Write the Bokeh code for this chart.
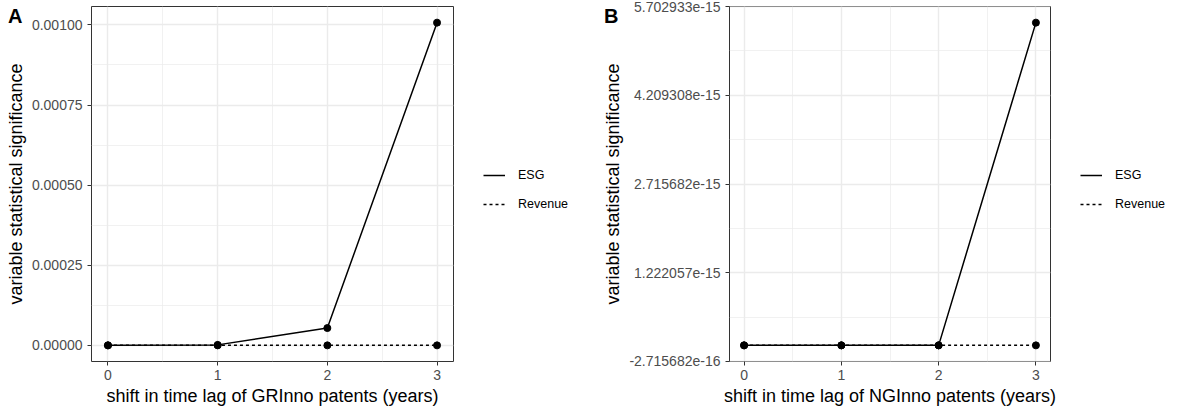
from bokeh.plotting import figure
from bokeh.models import Range1d, FixedTicker, Legend, LegendItem, LinearAxis
from bokeh.layouts import row
from bokeh.embed import file_html
from bokeh.resources import INLINE

# ---------------- data ----------------
lags = [0, 1, 2, 3]
x_ticks = [0, 1, 2, 3]
x_labels = ["0", "1", "2", "3"]

esg_a = [0.0, 1.5e-6, 5.4e-5, 1.007e-3]
rev_a = [0.0, 0.0, 0.0, 0.0]
a_yticks = [0.0, 0.00025, 0.0005, 0.00075, 0.001]
a_ylabels = ["0.00000", "0.00025", "0.00050", "0.00075", "0.00100"]

esg_b = [0.0, 0.0, 0.0, 5.431364e-15]
rev_b = [0.0, 0.0, 0.0, 0.0]
b_yticks = [-2.715682e-16, 1.222057e-15, 2.715682e-15, 4.209308e-15, 5.702933e-15]
b_ylabels = ["-2.715682e-16", "1.222057e-15", "2.715682e-15", "4.209308e-15", "5.702933e-15"]

series_names = ["ESG", "Revenue"]
series_dash = ["solid", "3 3"]
panel_tags = ["A", "B"]
x_titles = ["shift in time lag of GRInno patents (years)",
            "shift in time lag of NGInno patents (years)"]
y_title = "variable statistical significance"

FONT = "Liberation Sans"
HEIGHT = 412
TOP = 6
BOTTOM = 51
FRAME_H = HEIGHT - TOP - BOTTOM
XR = (-0.15, 3.15)


def midpoints(t):
    return [(a + b) / 2 for a, b in zip(t[:-1], t[1:])]


def make_panel(esg, rev, yr, yticks, ylabels, xtitle, tag, left, fw, right, tag_shift):
    p = figure(x_range=Range1d(*XR), y_range=yr,
               width=left + fw + right, height=HEIGHT,
               min_border_left=left, min_border_right=right,
               min_border_top=TOP, min_border_bottom=BOTTOM,
               output_backend="svg", toolbar_location=None)
    p.background_fill_color = "white"
    p.border_fill_color = "white"
    p.outline_line_color = "#333333"
    p.outline_line_width = 1

    p.xaxis.ticker = FixedTicker(ticks=x_ticks, minor_ticks=midpoints(x_ticks))
    p.xaxis.major_label_overrides = {t: l for t, l in zip(x_ticks, x_labels)}
    p.yaxis.ticker = FixedTicker(ticks=yticks, minor_ticks=midpoints(yticks))
    p.yaxis.major_label_overrides = {t: l for t, l in zip(yticks, ylabels)}
    p.xaxis.axis_label = xtitle
    p.yaxis.axis_label = y_title

    for ax in (p.xaxis[0], p.yaxis[0]):
        ax.axis_line_color = None
        ax.major_tick_line_color = "#333333"
        ax.major_tick_out = 4
        ax.major_tick_in = 0
        ax.minor_tick_line_color = None
        ax.major_label_text_font = FONT
        ax.major_label_text_font_size = "14px"
        ax.major_label_text_color = "#4D4D4D"
        ax.major_label_standoff = 5
        ax.axis_label_text_font = FONT
        ax.axis_label_text_font_size = "18px"
        ax.axis_label_text_font_style = "normal"
        ax.axis_label_text_color = "black"
        ax.axis_label_standoff = 3
    p.xaxis.major_label_standoff = 4
    p.xaxis.axis_label_standoff = 3

    for g in (p.xgrid[0], p.ygrid[0]):
        g.grid_line_color = "#EBEBEB"
        g.grid_line_width = 1.4
        g.minor_grid_line_color = "#EBEBEB"
        g.minor_grid_line_width = 0.7

    p.line(lags, esg, line_color="black", line_width=1.5, line_dash=series_dash[0])
    p.line(lags, rev, line_color="black", line_width=1.5, line_dash=series_dash[1])
    p.scatter(lags, rev, size=7, color="black")
    p.scatter(lags, esg, size=7, color="black")

    # panel tag (A / B): an extra outer left axis carrying one bold label near the top
    ypx = (yr.end - yr.start) / FRAME_H
    tag_y = yr.end - 9.4 * ypx
    tag_axis = LinearAxis(ticker=FixedTicker(ticks=[tag_y]),
                          major_label_overrides={tag_y: tag})
    tag_axis.axis_line_color = None
    tag_axis.major_tick_line_color = None
    tag_axis.minor_tick_line_color = None
    tag_axis.major_tick_out = 0
    tag_axis.major_tick_in = 0
    tag_axis.major_label_standoff = -tag_shift
    tag_axis.major_label_text_font = FONT
    tag_axis.major_label_text_font_style = "bold"
    tag_axis.major_label_text_font_size = "20px"
    tag_axis.major_label_text_color = "black"
    p.add_layout(tag_axis, "left")
    return p


def make_legend(width, x_off, esg, rev):
    # legend-only strip: the series are drawn into an off-screen y range,
    # only their legend keys are visible
    q = figure(width=width, height=HEIGHT, x_range=Range1d(*XR), y_range=Range1d(10, 11),
               min_border=0, x_axis_type=None, y_axis_type=None,
               output_backend="svg", toolbar_location=None)
    q.outline_line_color = None
    q.background_fill_color = "white"
    q.border_fill_color = "white"
    q.xgrid.visible = False
    q.ygrid.visible = False
    keys = [q.line(lags, s, line_color="black", line_width=1.5, line_dash=d)
            for s, d in zip((esg, rev), series_dash)]
    legend = Legend(items=[LegendItem(label=n, renderers=[r])
                           for n, r in zip(series_names, keys)],
                    location=(x_off, 147),
                    label_text_font=FONT, label_text_font_size="12.5px",
                    label_text_color="black",
                    glyph_width=22, glyph_height=20, label_height=20,
                    spacing=9, label_standoff=13, padding=0, margin=0,
                    border_line_color=None, background_fill_alpha=0)
    q.add_layout(legend)
    return q


ma = max(esg_a)
yr_a = Range1d(-0.05 * ma, 1.05 * ma)
span_b = b_yticks[-1] - b_yticks[0]
yr_b = Range1d(b_yticks[0] - 1e-5 * span_b, b_yticks[-1] + 1e-5 * span_b)

pa = make_panel(esg_a, rev_a, yr_a, a_yticks, a_ylabels, x_titles[0], panel_tags[0],
                91, 362, 6, 20)
la = make_legend(127, 24, esg_a, rev_a)
pb = make_panel(esg_b, rev_b, yr_b, b_yticks, b_ylabels, x_titles[1], panel_tags[1],
                143, 321, 6, 18)
lb = make_legend(123, 24, esg_b, rev_b)

layout = row(pa, la, pb, lb)
open("out.html", "w").write(file_html(layout, INLINE))
